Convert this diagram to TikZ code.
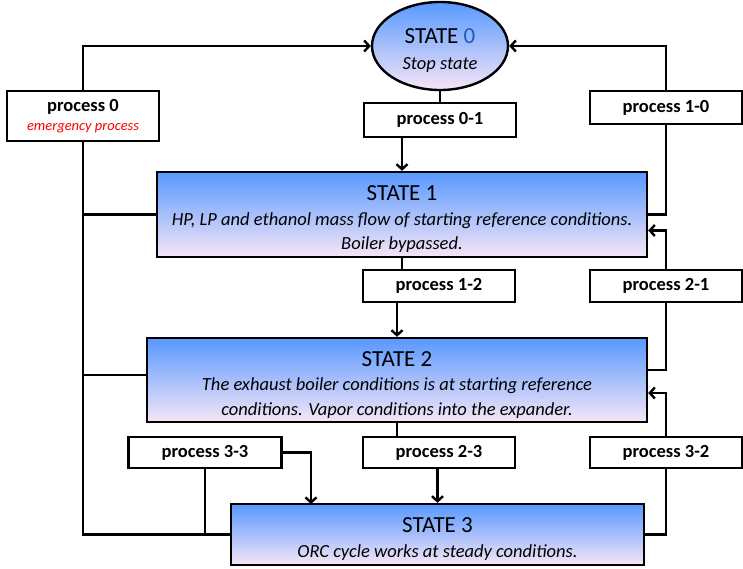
\documentclass[tikz,border=0pt]{standalone}
\usepackage{fontspec}
\setmainfont{Carlito}
\usetikzlibrary{shapes.geometric,arrows.meta}

\definecolor{stop}{RGB}{30,90,190}
\definecolor{topblue}{RGB}{88,152,255}
\definecolor{midblue}{RGB}{140,192,252}
\definecolor{lowpink}{RGB}{246,230,246}

\tikzset{
  statebox/.style={draw,line width=2.4pt,top color=topblue,middle color=midblue,bottom color=lowpink,
    align=center,inner sep=0pt,font=\fontsize{18.5}{24.5}\selectfont\itshape},
  procbox/.style={draw,line width=2.4pt,fill=white,inner sep=0pt,align=center,
    font=\fontsize{18.5}{20}\selectfont\bfseries}
}
\newcommand{\statetitle}[1]{{\fontsize{23}{26}\selectfont\upshape\rule{0pt}{24pt}#1}}

\begin{document}
\begin{tikzpicture}[x=1pt,y=-1pt,line width=2.4pt,>={Straight Barb[length=5pt,width=11pt]}]
\useasboundingbox (0,0) rectangle (743,569);

% states
\node[statebox,ellipse,minimum width=136pt,minimum height=88pt] (S0) at (440, 46)
  {\statetitle{STATE {\color{stop}0}}\\[1pt]Stop state};
\node[statebox,minimum width=490pt,minimum height=85pt] (S1) at (402, 214.5)
  {\statetitle{STATE 1}\\HP, LP and ethanol mass flow of starting reference conditions.\\Boiler bypassed.};
\node[statebox,minimum width=500pt,minimum height=84pt] (S2) at (397, 380)
  {\statetitle{STATE 2}\\The exhaust boiler conditions is at starting reference\\conditions. Vapor conditions into the expander.};
\node[statebox,minimum width=413pt,minimum height=61pt] (S3) at (437.5, 534.5)
  {\statetitle{STATE 3}\\ORC cycle works at steady conditions.};

% processes
\node[procbox,minimum width=152pt,minimum height=50pt] (P0) at (83, 116)
  {process 0\\[-1pt]{\fontsize{14.5}{16}\selectfont\mdseries\itshape\color{red}emergency process}};
\node[procbox,minimum width=152pt,minimum height=34pt] (P01) at (440, 120) {process 0-1};
\node[procbox,minimum width=152pt,minimum height=33pt] (P10) at (666, 107.5) {process 1-0};
\node[procbox,minimum width=152pt,minimum height=32pt] (P12) at (439, 286) {process 1-2};
\node[procbox,minimum width=152pt,minimum height=32pt] (P21) at (666, 286) {process 2-1};
\node[procbox,minimum width=152pt,minimum height=31pt] (P23) at (439, 452.5) {process 2-3};
\node[procbox,minimum width=152pt,minimum height=31pt] (P32) at (666, 452.5) {process 3-2};
\node[procbox,minimum width=153pt,minimum height=31pt] (P33) at (205, 452.5) {process 3-3};

\coordinate (C33) at (311, 504);

% main path
\draw (S0.south) -- (P01.north);
\draw[->] (S1.north |- P01.south) -- (S1.north);
\draw (S1.south) -- (S1.south |- P12.north);
\draw[->] (S2.north |- P12.south) -- (S2.north);
\draw (S2.south) -- (S2.south |- P23.north);
\draw[->] (S3.north |- P23.south) -- (S3.north);

% emergency line on the left
\draw[->] (P0.north) |- (S0.west);
\draw (P0.south) |- (S3.west);
\draw (S1.west) -- (S1.west -| P0.south);
\draw ([yshift=5pt]S2.west) -- ([yshift=5pt]S2.west -| P0.south);

% back paths on the right
\draw[->] (P10.north) |- (S0.east);
\draw (P10.south) |- (S1.east);
\draw[->] (P21.north) |- ([yshift=-16pt]S1.east);
\draw (P21.south) |- ([yshift=10pt]S2.east);
\draw[->] (P32.north) |- ([yshift=-13pt]S2.east);
\draw (P32.south) |- (S3.east);

% process 3-3
\draw[->] (P33.east) -| (C33);
\draw (P33.south) -- (P33.south |- S3.west);

\end{tikzpicture}
\end{document}
